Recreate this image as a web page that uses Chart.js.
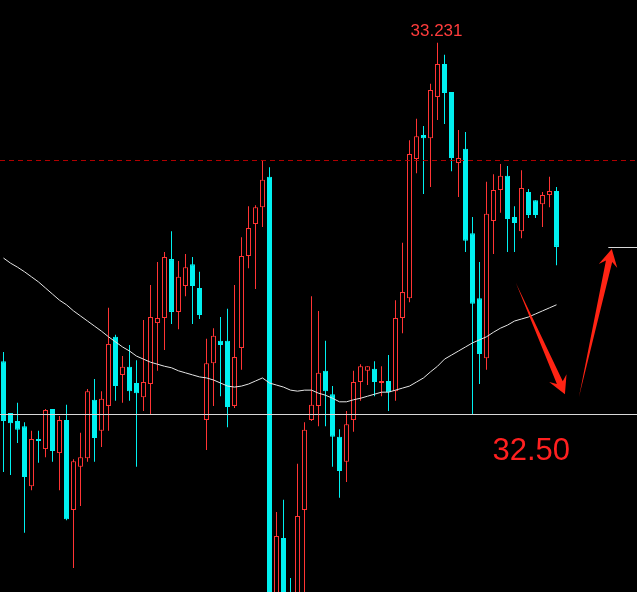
<!DOCTYPE html>
<html>
<head>
<meta charset="utf-8">
<script src="https://cdn.jsdelivr.net/npm/chart.js@4.4.1/dist/chart.umd.min.js"></script>
<style>
html,body{margin:0;padding:0;background:#000;overflow:hidden}
canvas{display:block}
</style>
</head>
<body>
<canvas id="kline" width="637" height="592"></canvas>
<script>
// 80 velas + 11 huecos vacios a la derecha (zona de las flechas)
const SLOTS = 91;

const openP = [32.604,32.502,32.486,32.476,32.358,32.451,32.431,32.510,32.423,32.488,
  32.311,32.396,32.413,32.528,32.467,32.516,32.652,32.577,32.593,32.561,
  32.533,32.559,32.679,32.689,32.805,32.701,32.752,32.795,32.748,32.488,
  32.600,32.644,32.644,32.516,32.630,32.811,32.874,32.907,32.967,32.094,
  32.256,32.134,32.094,32.311,32.488,32.516,32.585,32.539,32.455,32.406,
  32.488,32.563,32.585,32.589,32.561,32.565,32.545,32.689,32.728,33.002,
  33.049,33.043,33.124,33.189,33.134,32.994,33.022,32.856,32.728,32.610,
  32.880,32.941,32.969,32.888,32.860,32.937,32.921,32.913,32.931,32.939];

const highP = [32.622,32.502,32.522,32.484,32.467,32.467,32.510,32.510,32.496,32.518,
  32.411,32.463,32.549,32.569,32.545,32.709,32.656,32.614,32.636,32.606,
  32.685,32.754,32.799,32.819,32.860,32.801,32.815,32.809,32.780,32.648,
  32.669,32.691,32.707,32.754,32.848,32.909,32.911,33.000,32.986,32.307,
  32.331,32.177,32.402,32.484,32.732,32.703,32.644,32.555,32.470,32.506,
  32.585,32.598,32.594,32.604,32.594,32.616,32.724,32.837,33.039,33.081,
  33.067,33.150,33.231,33.207,33.134,33.059,33.055,32.888,32.799,32.957,
  32.972,32.992,32.988,32.909,32.980,32.943,32.921,32.937,32.967,32.947];

const lowP = [32.386,32.380,32.443,32.266,32.350,32.404,32.415,32.406,32.350,32.291,
  32.197,32.319,32.406,32.406,32.435,32.467,32.526,32.522,32.526,32.396,
  32.506,32.498,32.585,32.626,32.677,32.667,32.732,32.677,32.687,32.429,
  32.516,32.535,32.474,32.512,32.587,32.787,32.746,32.868,32.080,32.075,
  32.075,32.075,32.075,32.134,32.486,32.476,32.476,32.396,32.335,32.366,
  32.465,32.526,32.557,32.535,32.535,32.506,32.526,32.659,32.720,32.974,
  32.933,32.947,33.079,33.071,32.978,32.927,32.819,32.500,32.559,32.587,
  32.815,32.896,32.819,32.819,32.846,32.886,32.886,32.868,32.907,32.793];

const closeP = [32.486,32.482,32.469,32.376,32.451,32.447,32.508,32.427,32.488,32.293,
  32.407,32.415,32.545,32.453,32.530,32.638,32.555,32.593,32.545,32.541,
  32.563,32.691,32.689,32.809,32.701,32.770,32.789,32.752,32.695,32.600,
  32.654,32.636,32.514,32.612,32.811,32.866,32.907,32.961,32.114,32.260,
  32.114,32.104,32.299,32.469,32.518,32.581,32.545,32.455,32.388,32.480,
  32.563,32.594,32.594,32.563,32.565,32.543,32.689,32.740,33.012,33.047,
  33.043,33.138,33.189,33.132,33.004,33.004,32.841,32.717,32.618,32.894,
  32.941,32.969,32.884,32.876,32.945,32.892,32.892,32.931,32.939,32.829];

// media movil (linea blanca)
const maP = [32.807,32.797,32.789,32.780,32.770,32.760,32.748,32.736,32.724,32.715,
  32.703,32.693,32.683,32.673,32.663,32.652,32.642,32.632,32.624,32.614,
  32.608,32.602,32.598,32.594,32.591,32.585,32.581,32.577,32.573,32.571,
  32.567,32.561,32.555,32.553,32.555,32.559,32.565,32.571,32.561,32.557,
  32.553,32.547,32.545,32.547,32.547,32.541,32.537,32.531,32.524,32.524,
  32.528,32.531,32.535,32.539,32.543,32.543,32.547,32.551,32.555,32.563,
  32.571,32.583,32.594,32.608,32.616,32.624,32.632,32.640,32.646,32.652,
  32.661,32.669,32.675,32.683,32.687,32.691,32.697,32.703,32.709,32.715];

const yMin = 32.1496, yMax = 33.315;
const levelDash = 33.00;      // linea roja discontinua
const levelSupport = 32.50;   // linea blanca + texto grande
const levelTarget = 32.829;   // tramo blanco corto a la derecha
const targetFrom = 86.4;      // indice donde empieza ese tramo
const peakIdx = 62, peakText = "33.231";
const supportText = "32.50", supportTextIdx = 70;
// flechas: [idx cola, precio cola, idx punta, precio punta]
const arrows = [[73.2,32.758,80.2,32.539],[82.2,32.533,86.9,32.825]];

const RED = "#ff3434", CYAN = "#00f0f0";
const labels = Array.from({length: SLOTS}, (_, i) => String(i));
const up = openP.map((o, i) => closeP[i] >= o);
const bodies = openP.map((o, i) => [o, closeP[i]]);
const wicks = lowP.map((l, i) => [l, highP[i]]);

function drawArrow(ctx, x1, y1, x2, y2){
  const dx = x2 - x1, dy = y2 - y1, len = Math.hypot(dx, dy);
  const ux = dx / len, uy = dy / len, nx = -uy, ny = ux;
  const head = 17.5, hw = 9.5, sw = 3.2;
  const bx = x2 - ux * head, by = y2 - uy * head;
  const sx = x2 - ux * head * 0.72, sy = y2 - uy * head * 0.72;
  ctx.beginPath();
  ctx.moveTo(x1, y1);
  ctx.lineTo(sx + nx * sw, sy + ny * sw);
  ctx.lineTo(bx + nx * hw, by + ny * hw);
  ctx.lineTo(x2, y2);
  ctx.lineTo(bx - nx * hw, by - ny * hw);
  ctx.lineTo(sx - nx * sw, sy - ny * sw);
  ctx.closePath();
  ctx.fill();
}

const overlay = {
  id: "overlay",
  afterDatasetsDraw(chart){
    const {ctx, chartArea: a, scales: {x, y}} = chart;
    ctx.save();
    // linea roja discontinua
    let py = Math.round(y.getPixelForValue(levelDash)) + 0.5;
    ctx.strokeStyle = "#b00000"; ctx.lineWidth = 1; ctx.setLineDash([5, 4]);
    ctx.beginPath(); ctx.moveTo(a.left, py); ctx.lineTo(a.right, py); ctx.stroke();
    ctx.setLineDash([]);
    // linea blanca 32.50
    py = Math.round(y.getPixelForValue(levelSupport)) + 0.5;
    ctx.strokeStyle = "#d8d8d8";
    ctx.beginPath(); ctx.moveTo(a.left, py); ctx.lineTo(a.right, py); ctx.stroke();
    // tramo corto
    py = Math.round(y.getPixelForValue(levelTarget)) + 0.5;
    ctx.beginPath(); ctx.moveTo(x.getPixelForValue(targetFrom), py); ctx.lineTo(a.right, py); ctx.stroke();
    // flechas
    ctx.fillStyle = "#ff2414";
    arrows.forEach(([i1, p1, i2, p2]) => drawArrow(ctx,
      x.getPixelForValue(i1), y.getPixelForValue(p1),
      x.getPixelForValue(i2), y.getPixelForValue(p2)));
    // textos
    ctx.fillStyle = "#ff3c3c"; ctx.font = '17px "Liberation Sans", Arial, sans-serif';
    ctx.textAlign = "center"; ctx.textBaseline = "alphabetic";
    ctx.fillText(peakText, x.getPixelForValue(peakIdx) - 1, y.getPixelForValue(highP[peakIdx]) - 6.5);
    ctx.fillStyle = "#ff2020"; ctx.font = '31px "Liberation Sans", Arial, sans-serif';
    ctx.textAlign = "left";
    ctx.fillText(supportText, x.getPixelForValue(supportTextIdx) - 1, y.getPixelForValue(levelSupport) + 46);
    ctx.restore();
  }
};

new Chart(document.getElementById("kline"), {
  type: "bar",
  data: {
    labels,
    datasets: [
      {type: "line", data: maP, borderColor: "#e4e4e4", borderWidth: 1, pointRadius: 0, tension: 0, order: 1},
      {data: bodies, grouped: false, barThickness: 5, minBarLength: 1, inflateAmount: 0, borderSkipped: false,
        backgroundColor: up.map(u => u ? "#000" : CYAN), borderColor: up.map(u => u ? RED : CYAN), borderWidth: 1, order: 2},
      {data: wicks, grouped: false, barThickness: 1, inflateAmount: 0, borderWidth: 0,
        backgroundColor: up.map(u => u ? RED : CYAN), order: 3}
    ]
  },
  options: {
    responsive: false, animation: false,
    layout: {padding: 0},
    plugins: {legend: {display: false}, tooltip: {enabled: false}},
    scales: {
      x: {type: "category", display: false, offset: true},
      y: {display: false, min: yMin, max: yMax}
    }
  },
  plugins: [overlay]
});
</script>
</body>
</html>
